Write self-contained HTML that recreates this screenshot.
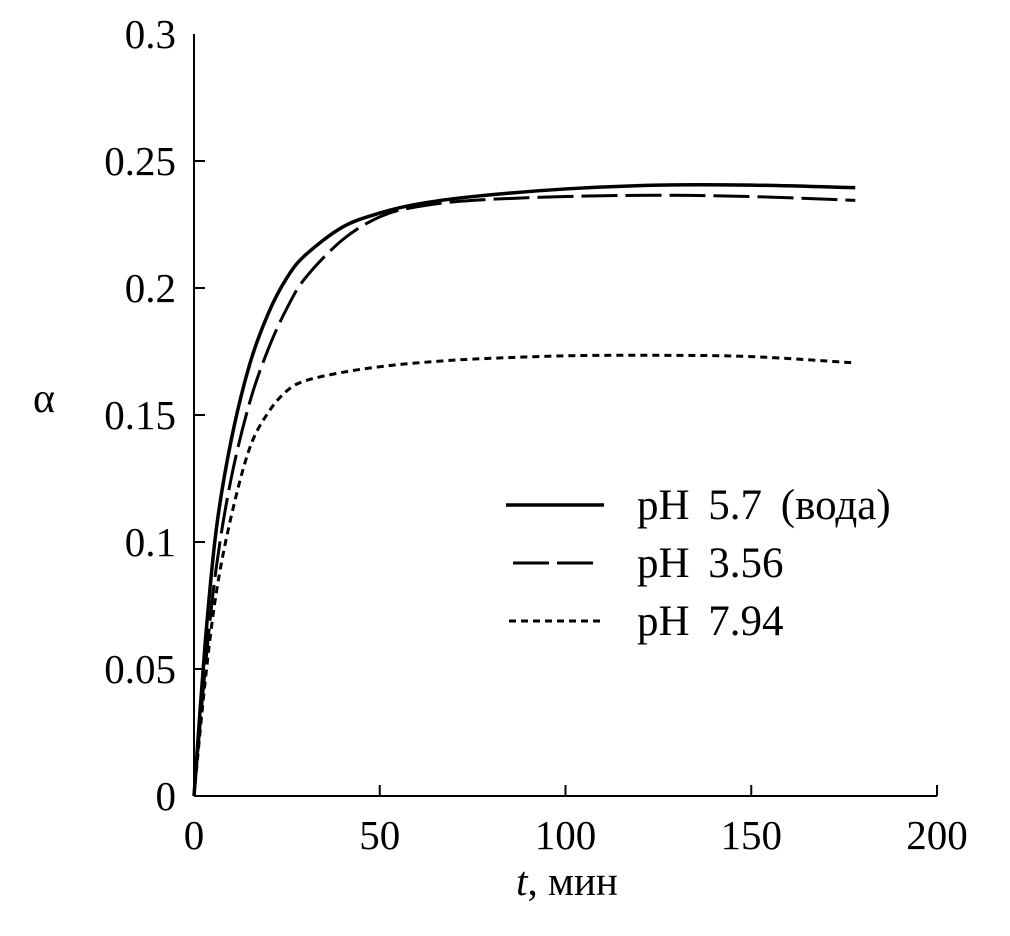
<!DOCTYPE html>
<html><head><meta charset="utf-8"><style>
body{margin:0;background:#fff}
svg text{font-family:"Liberation Serif","DejaVu Serif",serif;fill:#000}
</style></head><body>
<svg width="1010" height="931" viewBox="0 0 1010 931">
<g id="axes"></g><g id="series"></g><g id="legend"></g>
</svg>
<script>
const xTicks=[0,50,100,150,200];
const yTicks=[0,0.05,0.1,0.15,0.2,0.25,0.3];
const yTickLabels=["0","0.05","0.1","0.15","0.2","0.25","0.3"];
const tWater=[0,3,6,10,15,20,25,30,40,50,60,75,100,125,150,178];
const seriesWater=[0,0.06,0.105,0.14,0.17,0.19,0.204,0.213,0.224,0.2295,0.233,0.236,0.239,0.2405,0.2405,0.2395];
const tAcid=[0,3,6,10,15,20,25,30,40,50,60,75,100,125,150,178];
const seriesAcid=[0,0.05,0.09,0.125,0.155,0.176,0.192,0.204,0.219,0.228,0.232,0.2345,0.236,0.2365,0.236,0.2345];
const tBase=[0,3,6,10,15,20,25,30,40,50,60,75,100,125,150,178];
const seriesBase=[0,0.045,0.08,0.11,0.137,0.151,0.1595,0.1635,0.1668,0.169,0.1705,0.172,0.1733,0.1735,0.173,0.1705];
const legendLabels=["pH 5.7 (вода)","pH 3.56","pH 7.94"];
const NS="http://www.w3.org/2000/svg";
const X=v=>194+v*(743/200);
const Y=v=>796-v*(762/0.3);
function mk(tag,attrs,parent,text){const e=document.createElementNS(NS,tag);for(const k in attrs)e.setAttribute(k,attrs[k]);if(text!=null)e.textContent=text;parent.appendChild(e);return e;}
const ax=document.getElementById('axes');
let l=mk('line',{x1:X(0),y1:Y(0.3),x2:X(0),y2:Y(0),stroke:'#000','stroke-width':2},ax);


l=mk('line',{x1:X(0),y1:Y(0),x2:X(200),y2:Y(0),stroke:'#000','stroke-width':2},ax);


xTicks.forEach(v=>{
  if(v>0){const t=mk('line',{x1:X(v),y1:Y(0),x2:X(v),y2:Y(0)-11,stroke:'#000','stroke-width':2},ax);
  
  }
  const tx=mk('text',{x:X(v),y:849,'font-size':41,'text-anchor':'middle'},ax,String(v));
  
  
});
yTicks.forEach((v,i)=>{
  if(v>0&&v<0.3){const t=mk('line',{x1:X(0),y1:Y(v),x2:X(0)+11,y2:Y(v),stroke:'#000','stroke-width':2},ax);
  
  }
  const tx=mk('text',{x:176,y:Y(v)+14,'font-size':41,'text-anchor':'end'},ax,yTickLabels[i]);
  
  
});
let tt=mk('text',{x:567,y:895,'font-size':41,'text-anchor':'middle'},ax);


mk('tspan',{'font-style':'italic'},tt,'t');mk('tspan',{},tt,', мин');
tt=mk('text',{x:44,y:412,'font-size':42,'text-anchor':'middle'},ax,'α');


const sg=document.getElementById('series');
const styles=[{d:'',w:3.5},{d:'36 8',w:3},{d:'7 5',w:3}];
const names=['series-water','series-ph-3-56','series-ph-7-94'];
[[tWater,seriesWater],[tAcid,seriesAcid],[tBase,seriesBase]].forEach((ss,k)=>{
  const tv=ss[0],s=ss[1];
  const pts=tv.map((t,i)=>[X(t),Y(s[i])]);
  let d='M'+pts[0][0]+','+pts[0][1];
  for(let i=0;i<pts.length-1;i++){
    const p0=pts[Math.max(0,i-1)],p1=pts[i],p2=pts[i+1],p3=pts[Math.min(pts.length-1,i+2)];
    const c1=[p1[0]+(p2[0]-p0[0])/6,p1[1]+(p2[1]-p0[1])/6],c2=[p2[0]-(p3[0]-p1[0])/6,p2[1]-(p3[1]-p1[1])/6];
    d+=` C${c1[0]},${c1[1]} ${c2[0]},${c2[1]} ${p2[0]},${p2[1]}`;
  }
  const p=mk('path',{d:d,fill:'none',stroke:'#000','stroke-width':styles[k].w,'stroke-dasharray':styles[k].d,'stroke-linejoin':'round'},sg);
  
  
});
const lg=document.getElementById('legend');
const ly=[505,563,621],lx=[[506,604],[513,600],[509,604]];
legendLabels.forEach((lab,k)=>{
  const g=mk('g',{},lg);
  
  
  mk('line',{x1:lx[k][0],y1:ly[k],x2:lx[k][1],y2:ly[k],stroke:'#000','stroke-width':styles[k].w,'stroke-dasharray':styles[k].d},g);
  mk('text',{x:637,y:ly[k]+14,'font-size':43,'word-spacing':'8'},g,lab);
});
</script>
</body></html>
